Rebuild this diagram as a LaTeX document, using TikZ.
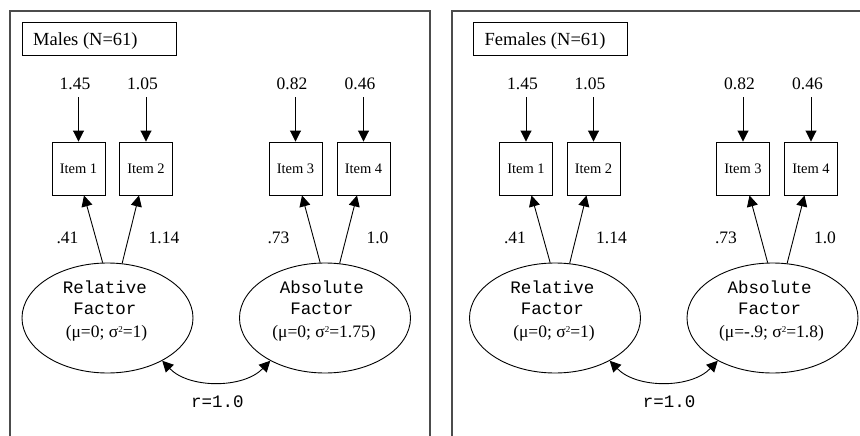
\documentclass[tikz,border=0pt]{standalone}
\usepackage{fontspec}
\setmainfont{Liberation Serif}
\newfontfamily\courfont{Liberation Mono}
\usetikzlibrary{arrows.meta,shapes.geometric}
\newcommand\supTwo{\raisebox{0.55ex}{\fontsize{9}{9}\selectfont 2}}
\tikzset{
  itembox/.style={draw,line width=0.9pt,minimum width=53pt,minimum height=53pt,inner sep=0pt,font=\fontsize{14.5}{16}\selectfont},
  factor/.style={draw,ellipse,line width=0.9pt,minimum width=171pt,minimum height=110pt,inner sep=0pt},
  titlebox/.style={draw,line width=0.9pt,minimum width=154pt,minimum height=33pt,inner sep=0pt},
  titletext/.style={anchor=base west,inner sep=0pt,font=\fontsize{18.5}{20}\selectfont},
  num/.style={anchor=base,inner sep=0pt,font=\fontsize{17.5}{20}\selectfont},
  ctext/.style={anchor=base,inner sep=0pt,font=\courfont\fontsize{17.5}{20}\selectfont},
  arr/.style={-{Triangle[length=11pt,width=11pt]},line width=0.9pt},
  dblarr/.style={{Triangle[length=11pt,width=11pt]}-{Triangle[length=11pt,width=11pt]},line width=0.9pt},
  panelframe/.style={draw=black!70,line width=1.3pt},
}
\newcommand\semPanel[5]{%
\begin{scope}[xshift=#2pt]
  % title
  \node[titlebox] (#1tb) at (99+#5,38.5) {};
  \node[titletext] (#1tt) at (33+#5,46) {#3};
  % items
  \node[itembox] (#1i1) at (78.5,168.5) {Item 1};
  \node[itembox] (#1i2) at (146,168.5) {Item 2};
  \node[itembox] (#1i3) at (295.5,168.5) {Item 3};
  \node[itembox] (#1i4) at (363.5,168.5) {Item 4};
  % error variances
  \node[num] (#1e1) at (75,89) {1.45};
  \node[num] (#1e2) at (142.5,89) {1.05};
  \node[num] (#1e3) at (292,89) {0.82};
  \node[num] (#1e4) at (360,89) {0.46};
  \draw[arr,shorten <=8pt] (#1i1.north |- #1e1.south) -- (#1i1.north);
  \draw[arr,shorten <=8pt] (#1i2.north |- #1e2.south) -- (#1i2.north);
  \draw[arr,shorten <=8pt] (#1i3.north |- #1e3.south) -- (#1i3.north);
  \draw[arr,shorten <=8pt] (#1i4.north |- #1e4.south) -- (#1i4.north);
  % factors
  \node[factor] (#1rel) at (107.5,318) {};
  \node[factor] (#1abs) at (325,318) {};
  \node[ctext] (#1rt1) at (105,293) {Relative};
  \node[ctext] (#1rt2) at (105,314) {Factor};
  \node[num] (#1rt3) at (106.5,337) {(μ=0; σ\supTwo=1)};
  \node[ctext] (#1at1) at (322,293) {Absolute};
  \node[ctext] (#1at2) at (322,314) {Factor};
  \node[num] (#1at3) at (324,337) {#4};
  % loadings
  \draw[arr] (#1rel.95) -- ([xshift=5.5pt]#1i1.south);
  \draw[arr] (#1rel.75) -- ([xshift=-7pt]#1i2.south);
  \draw[arr] (#1abs.95) -- ([xshift=6.5pt]#1i3.south);
  \draw[arr] (#1abs.75) -- ([xshift=-6.5pt]#1i4.south);
  \node[num] (#1l1) at (67.5,243) {.41};
  \node[num] (#1l2) at (164,243) {1.14};
  \node[num] (#1l3) at (278.5,243) {.73};
  \node[num] (#1l4) at (377.5,243) {1.0};
  % correlation
  \draw[dblarr] (#1rel.-38) .. controls +(27,28) and +(-27,28) .. (#1abs.-142);
  \node[ctext] (#1r) at (217.5+#5,407) {r=1.0};
\end{scope}}
\begin{document}
\begin{tikzpicture}[x=1pt,y=-1pt]
  \useasboundingbox (0,0) rectangle (860,436);
  % panel frames
  \draw[panelframe] (10,436) -- (10,11) -- (430,11) -- (430,436);
  \draw[panelframe] (452,436) -- (452,11) -- (860,11);
  \semPanel{L}{0}{Males (N=61)}{(μ=0; σ\supTwo=1.75)}{0}
  \semPanel{R}{447.5}{Females (N=61)}{(μ=-.9; σ\supTwo=1.8)}{4}
\end{tikzpicture}
\end{document}
